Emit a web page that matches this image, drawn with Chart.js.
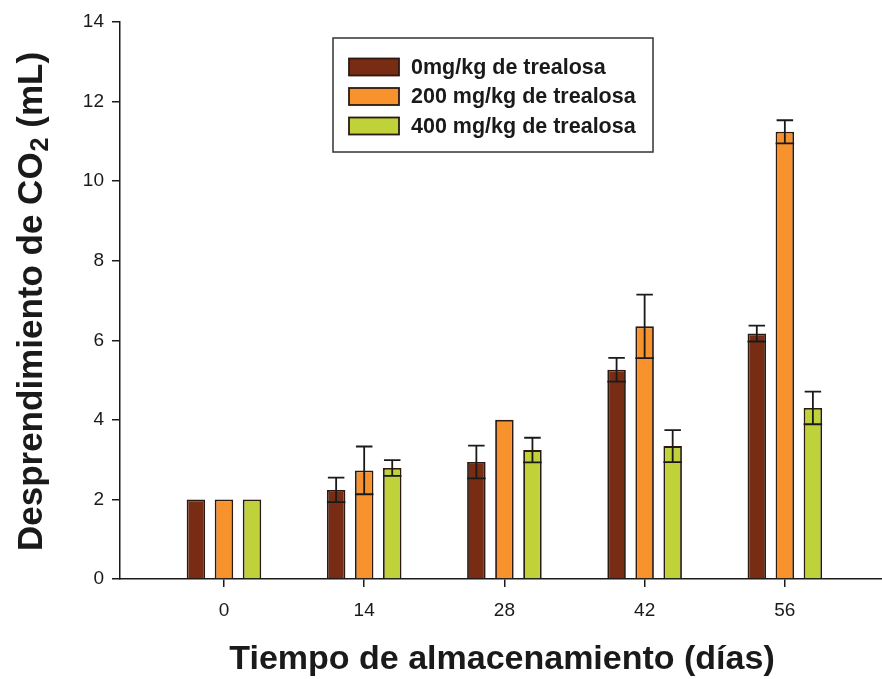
<!DOCTYPE html>
<html>
<head>
<meta charset="utf-8">
<script src="https://cdn.jsdelivr.net/npm/chart.js@4"></script>
<style>
  html, body { margin: 0; padding: 0; background: #fff; }
  #wrap { width: 882px; height: 679px; }
</style>
</head>
<body>
<div id="wrap"><canvas id="chart" width="882" height="679"></canvas></div>
<script>
// storage days
const days = [0, 14, 28, 42, 56];

// CO2 release (mL) per trehalose dose
const dose0 = [2.0, 2.24, 2.94, 5.26, 6.17];
const dose200 = [2.0, 2.73, 4.0, 6.35, 11.24];
const dose400 = [2.0, 2.79, 3.24, 3.34, 4.30];

// error (+/-)
const err0 = [0, 0.31, 0.41, 0.30, 0.20];
const err200 = [0, 0.60, 0, 0.80, 0.29];
const err400 = [0, 0.20, 0.31, 0.40, 0.41];

const seriesLabels = ['0mg/kg de trealosa', '200 mg/kg de trealosa', '400 mg/kg de trealosa'];
const yTicks = [0, 2, 4, 6, 8, 10, 12, 14];

const ink = '#1a1a1a';
const font = '"Liberation Sans", Arial, Helvetica, sans-serif';

function toPoints(vals) {
  return vals.map((v, i) => ({ x: days[i], y: v }));
}

// error bars, caps at both ends (lower one sits inside the bar)
const errorBars = {
  id: 'errorBars',
  afterDatasetsDraw(chart) {
    const ctx = chart.ctx;
    const yScale = chart.scales.y;
    ctx.save();
    ctx.strokeStyle = ink;
    ctx.lineWidth = 1.8;
    chart.data.datasets.forEach((ds, di) => {
      const meta = chart.getDatasetMeta(di);
      meta.data.forEach((bar, i) => {
        const e = ds.errors[i];
        if (!e) return;
        const v = ds.data[i].y;
        const top = yScale.getPixelForValue(v + e);
        const bot = yScale.getPixelForValue(v - e);
        const half = bar.width / 2;
        ctx.beginPath();
        ctx.moveTo(bar.x, top);
        ctx.lineTo(bar.x, bot);
        ctx.moveTo(bar.x - half + 1, top);
        ctx.lineTo(bar.x + half - 1, top);
        ctx.moveTo(bar.x - half, bot);
        ctx.lineTo(bar.x + half, bot);
        ctx.stroke();
      });
    });
    ctx.restore();
  }
};

// boxed legend and axis titles
const decorations = {
  id: 'decorations',
  afterDraw(chart) {
    const ctx = chart.ctx;
    ctx.save();

    // legend box
    ctx.strokeStyle = '#333';
    ctx.lineWidth = 1.5;
    ctx.strokeRect(333, 38, 320, 114);
    chart.data.datasets.forEach((ds, i) => {
      const y = 67 + i * 29.5;
      ctx.fillStyle = ds.backgroundColor;
      ctx.fillRect(349, y - 8.5, 50, 17);
      ctx.strokeStyle = '#2a1a12';
      ctx.lineWidth = 1.8;
      ctx.strokeRect(349, y - 8.5, 50, 17);
      ctx.fillStyle = ink;
      ctx.font = 'bold 21.5px ' + font;
      ctx.textBaseline = 'middle';
      ctx.textAlign = 'left';
      ctx.fillText(ds.label, 411, y + 1);
    });

    // x title
    ctx.fillStyle = ink;
    ctx.font = 'bold 34px ' + font;
    ctx.textAlign = 'center';
    ctx.textBaseline = 'alphabetic';
    ctx.fillText('Tiempo de almacenamiento (días)', 502, 669);

    // y title with subscript 2
    ctx.translate(42, 302);
    ctx.rotate(-Math.PI / 2);
    const big = 'bold 35px ' + font;
    const small = 'bold 25px ' + font;
    const a = 'Desprendimiento de CO';
    const b = '2';
    const c = ' (mL)';
    ctx.font = big;
    const wa = ctx.measureText(a).width;
    const wc = ctx.measureText(c).width;
    ctx.font = small;
    const wb = ctx.measureText(b).width;
    let x0 = -(wa + wb + wc) / 2;
    ctx.textAlign = 'left';
    ctx.font = big;
    ctx.fillText(a, x0, 0);
    ctx.font = small;
    ctx.fillText(b, x0 + wa + 1, 6);
    ctx.font = big;
    ctx.fillText(c, x0 + wa + wb + 1, 0);

    ctx.restore();
  }
};

const whiteBg = {
  id: 'whiteBg',
  beforeDraw(chart) {
    const ctx = chart.ctx;
    ctx.save();
    ctx.fillStyle = '#fff';
    ctx.fillRect(0, 0, chart.width, chart.height);
    ctx.restore();
  }
};

new Chart(document.getElementById('chart'), {
  type: 'bar',
  data: {
    datasets: [
      { label: seriesLabels[0], data: toPoints(dose0), errors: err0, backgroundColor: '#782c14' },
      { label: seriesLabels[1], data: toPoints(dose200), errors: err200, backgroundColor: '#f8922c' },
      { label: seriesLabels[2], data: toPoints(dose400), errors: err400, backgroundColor: '#bfd23a' }
    ]
  },
  options: {
    responsive: false,
    animation: false,
    layout: { padding: { top: 22, right: 0, left: 0, bottom: 0 } },
    datasets: {
      bar: {
        borderColor: '#2a1a12',
        borderWidth: 1.8,
        categoryPercentage: 0.6,
        barPercentage: 0.66
      }
    },
    plugins: {
      legend: { display: false },
      tooltip: { enabled: false }
    },
    scales: {
      x: {
        type: 'linear',
        offset: false,
        min: -10.38,
        max: 65.7,
        afterBuildTicks(scale) {
          scale.ticks = days.map(v => ({ value: v }));
        },
        afterFit(scale) { scale.height = 100; },
        grid: { offset: false, drawOnChartArea: false, tickLength: 8, color: ink, lineWidth: 1.5 },
        border: { color: ink, width: 1.5 },
        ticks: { color: ink, font: { family: font, size: 19 }, padding: 12 }
      },
      y: {
        min: 0,
        max: 14,
        afterBuildTicks(scale) {
          scale.ticks = yTicks.map(v => ({ value: v }));
        },
        afterFit(scale) { scale.width = 120; },
        grid: { drawOnChartArea: false, tickLength: 8, color: ink, lineWidth: 1.5 },
        border: { color: ink, width: 1.5 },
        ticks: { color: ink, font: { family: font, size: 19 }, padding: 8 }
      }
    }
  },
  plugins: [whiteBg, errorBars, decorations]
});
</script>
</body>
</html>
